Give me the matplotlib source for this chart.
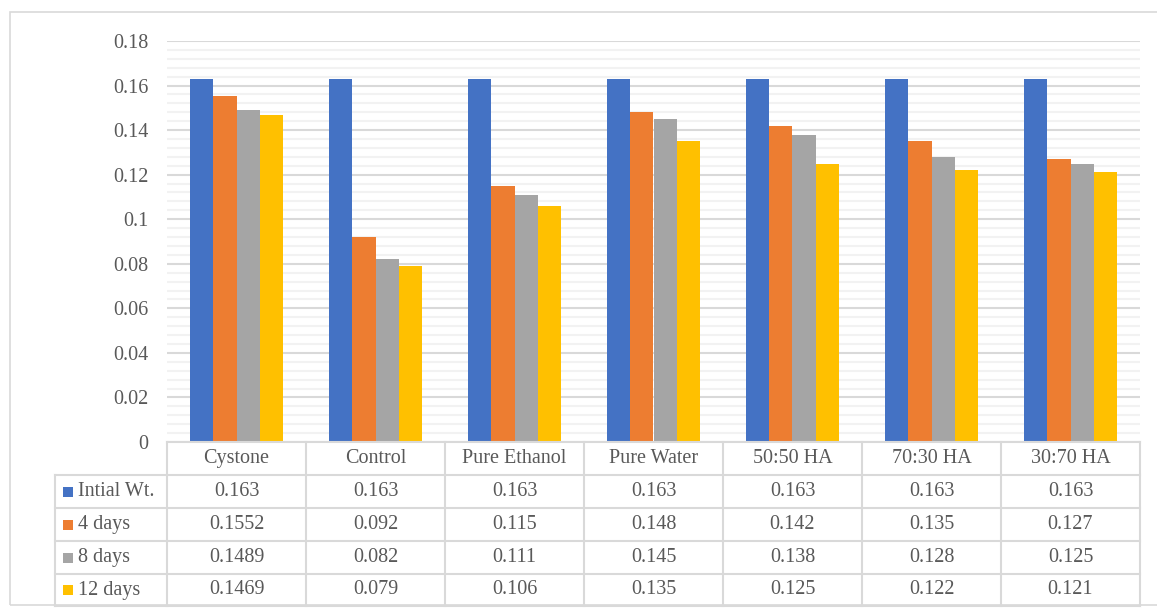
import numpy as np
import matplotlib.pyplot as plt
from matplotlib.patches import Rectangle

plt.rcParams['font.family'] = ['Liberation Serif', 'DejaVu Serif']

categories = ['Cystone', 'Control', 'Pure Ethanol', 'Pure Water', '50:50 HA', '70:30 HA', '30:70 HA']
series_names = ['Intial Wt.', '4 days', '8 days', '12 days']
initial_wt = [0.163, 0.163, 0.163, 0.163, 0.163, 0.163, 0.163]
days_4 = [0.1552, 0.092, 0.115, 0.148, 0.142, 0.135, 0.127]
days_8 = [0.1489, 0.082, 0.111, 0.145, 0.138, 0.128, 0.125]
days_12 = [0.1469, 0.079, 0.106, 0.135, 0.125, 0.122, 0.121]
table_text = [
    ['0.163', '0.163', '0.163', '0.163', '0.163', '0.163', '0.163'],
    ['0.1552', '0.092', '0.115', '0.148', '0.142', '0.135', '0.127'],
    ['0.1489', '0.082', '0.111', '0.145', '0.138', '0.128', '0.125'],
    ['0.1469', '0.079', '0.106', '0.135', '0.125', '0.122', '0.121'],
]
colors = ['#4472C4', '#ED7D31', '#A5A5A5', '#FFC000']
y_ticks = [0, 0.02, 0.04, 0.06, 0.08, 0.1, 0.12, 0.14, 0.16, 0.18]
y_labels = ['0', '0.02', '0.04', '0.06', '0.08', '0.1', '0.12', '0.14', '0.16', '0.18']

W, H = 1157, 610
txt = '#595959'
grid_major = '#D9D9D9'
grid_minor = '#F2F2F2'
fs = 14.5

fig = plt.figure(figsize=(W / 100, H / 100), dpi=100)

# outer chart border
fig.add_artist(Rectangle((10 / W, 5 / H), 1.2, (H - 12 - 5) / H, transform=fig.transFigure,
                         fill=False, ec='#D9D9D9', lw=1.2))

# bar area
px0, px1 = 167, 1140
py_top, py_bot = 41, 442
ax = fig.add_axes([px0 / W, 1 - py_bot / H, (px1 - px0) / W, (py_bot - py_top) / H])

x = np.arange(len(categories))
series = [initial_wt, days_4, days_8, days_12]
w = 1 / 6
for i, vals in enumerate(series):
    ax.bar(x + (i - 1.5) * w, vals, width=w, color=colors[i], zorder=3)

ax.set_xlim(-0.5, len(categories) - 0.5)
ax.set_ylim(0, 0.18)
ax.set_yticks(y_ticks)
ax.set_yticklabels(y_labels)
ax.set_yticks(np.arange(0, 0.1801, 0.004), minor=True)
ax.grid(axis='y', which='minor', color=grid_minor, lw=1.5, zorder=0)
ax.grid(axis='y', which='major', color=grid_major, lw=1.5, zorder=1)
ax.tick_params(axis='y', which='both', length=0, pad=13.5, labelsize=fs, labelcolor=txt)
ax.set_xticks([])
for s in ax.spines.values():
    s.set_visible(False)

# data table
tx0 = 55
row_h = [442, 475, 508, 541, 574, 606]
cw = (px1 - px0) / len(categories)
tab_lc = '#D9D9D9'

def fx(p):
    return p / W

def fy(p):
    return 1 - p / H

def hline(xa, xb, yp):
    fig.add_artist(plt.Line2D([fx(xa), fx(xb)], [fy(yp), fy(yp)], color=tab_lc, lw=1.5))

def vline(xp, ya, yb):
    fig.add_artist(plt.Line2D([fx(xp), fx(xp)], [fy(ya), fy(yb)], color=tab_lc, lw=1.5))

hline(px0, px1, row_h[0])
for yp in row_h[1:]:
    hline(tx0, px1, yp)
vline(tx0, row_h[1], row_h[-1])
for j in range(len(categories) + 1):
    vline(px0 + j * cw, row_h[0], row_h[-1])

for j, cat in enumerate(categories):
    fig.text(fx(px0 + (j + 0.5) * cw), fy((row_h[0] + row_h[1]) / 2), cat,
             ha='center', va='center', fontsize=fs, color=txt)

for i, name in enumerate(series_names):
    yc = (row_h[i + 1] + row_h[i + 2]) / 2
    fig.add_artist(Rectangle((fx(63), fy(yc + 5)), 10 / W, 10 / H, transform=fig.transFigure,
                             color=colors[i], lw=0))
    fig.text(fx(78), fy(yc), name, ha='left', va='center', fontsize=fs, color=txt)
    for j in range(len(categories)):
        fig.text(fx(px0 + (j + 0.5) * cw), fy(yc), table_text[i][j],
                 ha='center', va='center', fontsize=fs, color=txt)

fig.savefig('out.png', dpi=100)
